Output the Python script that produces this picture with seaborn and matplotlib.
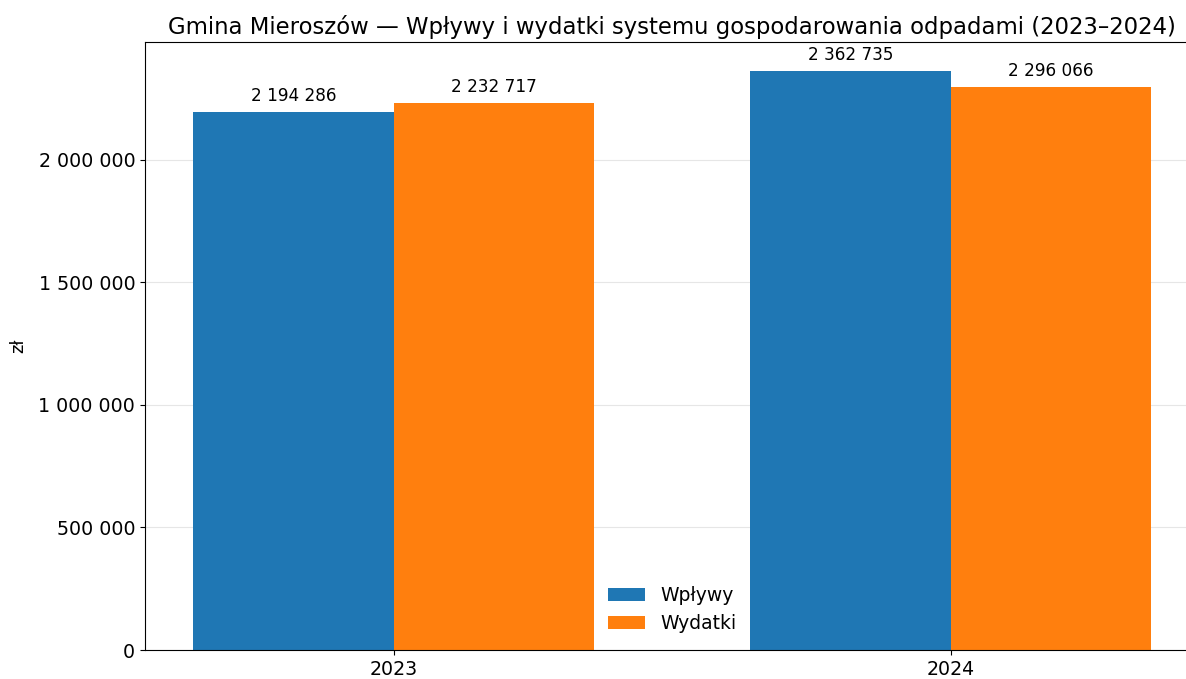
import pandas as pd
import matplotlib.pyplot as plt
import matplotlib.ticker as mticker
import seaborn as sns

# Data
years = ['2023', '2024']
wplywy = [2194286, 2362735]
wydatki = [2232717, 2296066]
series = ['Wpływy', 'Wydatki']

df = pd.DataFrame({
    'Rok': years * 2,
    'Kwota': wplywy + wydatki,
    'Rodzaj': [series[0]] * len(years) + [series[1]] * len(years),
})

fig = plt.figure(figsize=(11.86, 6.79), dpi=100)
ax = fig.add_axes([0.1223, 0.0427, 0.889, 0.8955])

width = 0.72
sns.barplot(data=df, x='Rok', y='Kwota', hue='Rodzaj', hue_order=series,
            palette=['#1f77b4', '#ff7f0e'], width=width, gap=0,
            linewidth=0, saturation=1, ax=ax)

fmt = lambda v: f'{int(round(v)):,}'.replace(',', ' ')
for cont in ax.containers:
    ax.bar_label(cont, labels=[fmt(b.get_height()) for b in cont],
                 padding=5, fontsize=12.2)

# matplotlib-like x margins around the bars
span = (len(years) - 1) + width
ax.set_xlim(-width / 2 - 0.05 * span, len(years) - 1 + width / 2 + 0.05 * span)
ax.set_ylim(0, max(wplywy + wydatki) * 1.05)
ax.yaxis.set_major_formatter(mticker.FuncFormatter(lambda v, p: fmt(v)))
ax.grid(axis='y', color='#e6e6e6', linewidth=0.8)
ax.set_axisbelow(True)
ax.set_xlabel('')
ax.set_ylabel('zł', fontsize=13, labelpad=8)
ax.tick_params(labelsize=13.7)
ax.set_title('Gmina Mieroszów — Wpływy i wydatki systemu gospodarowania odpadami (2023–2024)',
             fontsize=16.4)
ax.legend(loc='lower center', frameon=False, fontsize=13.5, title=None)

fig.savefig('out.png', dpi=100)
